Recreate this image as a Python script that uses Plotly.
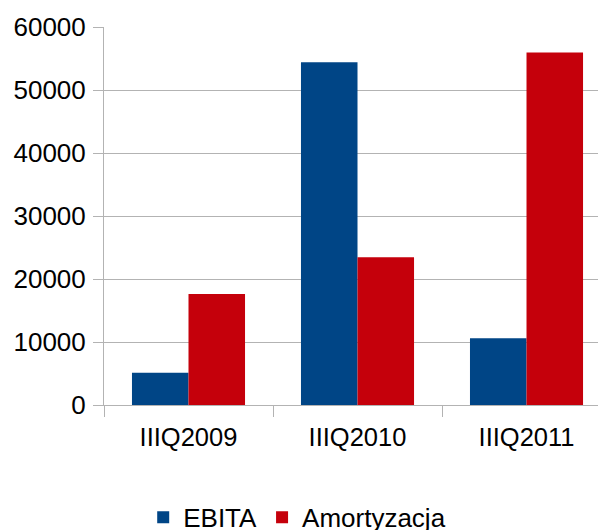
import plotly.graph_objects as go

categories = ["IIIQ2009", "IIIQ2010", "IIIQ2011"]
ebita = [5100, 54400, 10600]
amortyzacja = [17600, 23450, 55950]
y_ticks = [0, 10000, 20000, 30000, 40000, 50000, 60000]

fig = go.Figure()
fig.add_trace(go.Bar(name="EBITA", x=categories, y=ebita, marker_color="#004586", marker_line_width=0))
fig.add_trace(go.Bar(name="Amortyzacja", x=categories, y=amortyzacja, marker_color="#c5000b", marker_line_width=0))

fig.update_layout(
    width=598, height=530,
    margin=dict(l=104, r=0, t=27, b=125),
    barmode="group", bargap=0.331, bargroupgap=0,
    plot_bgcolor="white", paper_bgcolor="white",
    font=dict(family="Liberation Sans, Arial, sans-serif", size=26, color="black"),
    showlegend=True,
    legend=dict(orientation="h", xref="container", yref="container", x=0.497, xanchor="center",
                y=0.024, yanchor="middle", font=dict(size=26), itemwidth=30,
                traceorder="normal", bgcolor="rgba(0,0,0,0)"),
)
fig.update_xaxes(
    range=[-0.5, 2.423], tickson="boundaries", ticks="outside", ticklen=11, tickcolor="#b3b3b3",
    showline=True, linecolor="#b3b3b3", linewidth=1, showgrid=False, tickfont=dict(size=25.5),
    ticklabelstandoff=9, fixedrange=True,
)
fig.update_yaxes(
    range=[0, 60000], tickvals=y_ticks, ticktext=[str(v) for v in y_ticks],
    ticks="outside", ticklen=10, tickcolor="#b3b3b3",
    showline=True, linecolor="#b3b3b3", linewidth=1, showgrid=True, gridcolor="#b3b3b3", gridwidth=1,
    zeroline=False, tickfont=dict(size=26), ticklabelstandoff=2,
)

fig.write_html("out.html", config={"displayModeBar": False},
               post_script="document.body.style.margin='0';document.body.style.overflow='hidden';")
